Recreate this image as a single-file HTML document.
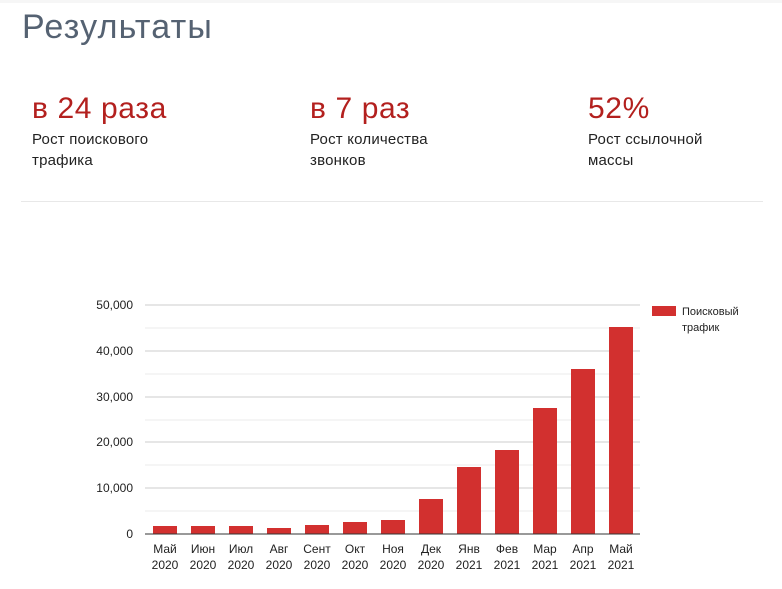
<!DOCTYPE html>
<html><head><meta charset="utf-8"><style>
body{margin:0;width:782px;height:589px;background:#fff;font-family:"Liberation Sans",sans-serif;position:relative;overflow:hidden}
.t{position:absolute;left:22px;top:8px;font-size:34px;color:#556272;font-weight:300;letter-spacing:1.2px}
.n{position:absolute;top:92px;font-size:30px;color:#b3201e;letter-spacing:0.6px}
.d{position:absolute;top:129px;font-size:15px;line-height:21px;color:#222;letter-spacing:0.2px}
.hr{position:absolute;left:21px;top:201px;width:742px;height:1px;background:#e8e8e8}
</style></head><body>
<div style="position:absolute;left:0;top:0;width:782px;height:3px;background:#f6f6f6"></div>
<div class="t">Результаты</div>
<div class="n" style="left:32px">в 24 раза</div>
<div class="d" style="left:32px">Рост поискового<br>трафика</div>
<div class="n" style="left:310px">в 7 раз</div>
<div class="d" style="left:310px">Рост количества<br>звонков</div>
<div class="n" style="left:588px">52%</div>
<div class="d" style="left:588px">Рост ссылочной<br>массы</div>
<div class="hr"></div>
<svg width="782" height="589" style="position:absolute;left:0;top:0" font-family="Liberation Sans, sans-serif" font-size="12" fill="#222">
<g stroke="#ebebeb"><line x1="145" x2="640" y1="511" y2="511"/><line x1="145" x2="640" y1="465" y2="465"/><line x1="145" x2="640" y1="420" y2="420"/><line x1="145" x2="640" y1="374" y2="374"/><line x1="145" x2="640" y1="328" y2="328"/></g>
<g stroke="#ccc"><line x1="145" x2="640" y1="488" y2="488"/><line x1="145" x2="640" y1="442" y2="442"/><line x1="145" x2="640" y1="397" y2="397"/><line x1="145" x2="640" y1="351" y2="351"/><line x1="145" x2="640" y1="305" y2="305"/></g>
<g text-anchor="end"><text x="133" y="538">0</text><text x="133" y="492">10,000</text><text x="133" y="446">20,000</text><text x="133" y="401">30,000</text><text x="133" y="355">40,000</text><text x="133" y="309">50,000</text></g>
<g fill="#d2302f">
<rect x="153" y="526" width="24" height="8"/><rect x="191" y="526" width="24" height="8"/><rect x="229" y="526" width="24" height="8"/><rect x="267" y="528" width="24" height="6"/><rect x="305" y="525" width="24" height="9"/><rect x="343" y="522" width="24" height="12"/><rect x="381" y="520" width="24" height="14"/><rect x="419" y="499" width="24" height="35"/><rect x="457" y="467" width="24" height="67"/><rect x="495" y="450" width="24" height="84"/><rect x="533" y="408" width="24" height="126"/><rect x="571" y="369" width="24" height="165"/><rect x="609" y="327" width="24" height="207"/>
<rect x="652" y="306" width="24" height="10"/></g>
<line x1="145" x2="640" y1="534" y2="534" stroke="#333"/>
<g text-anchor="middle">
<text x="165" y="553">Май</text><text x="203" y="553">Июн</text><text x="241" y="553">Июл</text><text x="279" y="553">Авг</text><text x="317" y="553">Сент</text><text x="355" y="553">Окт</text><text x="393" y="553">Ноя</text><text x="431" y="553">Дек</text><text x="469" y="553">Янв</text><text x="507" y="553">Фев</text><text x="545" y="553">Мар</text><text x="583" y="553">Апр</text><text x="621" y="553">Май</text>
<text x="165" y="569">2020</text><text x="203" y="569">2020</text><text x="241" y="569">2020</text><text x="279" y="569">2020</text><text x="317" y="569">2020</text><text x="355" y="569">2020</text><text x="393" y="569">2020</text><text x="431" y="569">2020</text><text x="469" y="569">2021</text><text x="507" y="569">2021</text><text x="545" y="569">2021</text><text x="583" y="569">2021</text><text x="621" y="569">2021</text></g>
<text x="682" y="315" font-size="11">Поисковый</text><text x="682" y="331" font-size="11">трафик</text>
</svg>
</body></html>
